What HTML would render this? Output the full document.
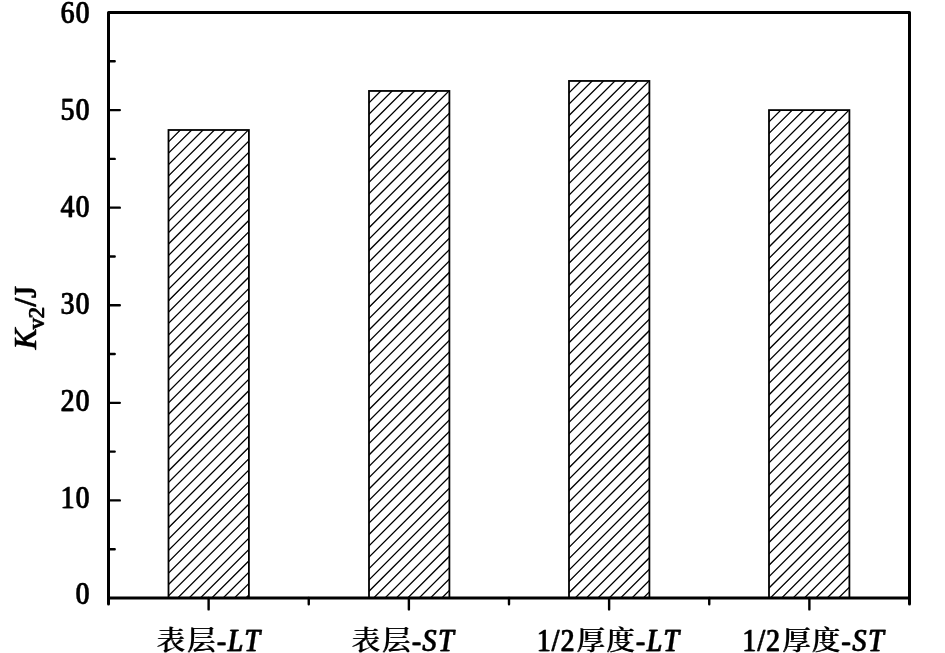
<!DOCTYPE html>
<html lang="zh"><head><meta charset="utf-8"><title>Kv2/J</title>
<style>html,body{margin:0;padding:0;background:#fff;}body{width:945px;height:653px;overflow:hidden;}svg{display:block;}text{font-family:"Liberation Serif","Noto Serif CJK SC",serif;fill:#000;stroke:#000;stroke-width:0.3px;font-size:30.8px;letter-spacing:1.5px;}.i{font-style:italic;stroke-width:0.3px;letter-spacing:2.2px;}.c{font-family:"Noto Serif CJK SC","Liberation Serif",serif;font-weight:400;stroke-width:0.1px;letter-spacing:0;font-size:28.3px;}.s{font-size:22.3px;}.e{text-anchor:end;}.r text{letter-spacing:0;}</style></head><body>
<svg width="945" height="653" viewBox="0 0 945 653">
<rect x="0" y="0" width="945" height="653" fill="#fff"/>
<defs>
<clipPath id="cp0"><rect x="168.50" y="130.00" width="80.40" height="468.00"/></clipPath>
<clipPath id="cp1"><rect x="369.00" y="90.95" width="80.40" height="507.05"/></clipPath>
<clipPath id="cp2"><rect x="569.00" y="80.95" width="80.40" height="517.05"/></clipPath>
<clipPath id="cp3"><rect x="769.00" y="110.10" width="80.40" height="487.90"/></clipPath>
</defs>
<path clip-path="url(#cp0)" d="M167.50 142.85L249.90 60.45M167.50 154.20L249.90 71.80M167.50 165.55L249.90 83.15M167.50 176.90L249.90 94.50M167.50 188.25L249.90 105.85M167.50 199.60L249.90 117.20M167.50 210.95L249.90 128.55M167.50 222.30L249.90 139.90M167.50 233.65L249.90 151.25M167.50 245.00L249.90 162.60M167.50 256.35L249.90 173.95M167.50 267.70L249.90 185.30M167.50 279.05L249.90 196.65M167.50 290.40L249.90 208.00M167.50 301.75L249.90 219.35M167.50 313.10L249.90 230.70M167.50 324.45L249.90 242.05M167.50 335.80L249.90 253.40M167.50 347.15L249.90 264.75M167.50 358.50L249.90 276.10M167.50 369.85L249.90 287.45M167.50 381.20L249.90 298.80M167.50 392.55L249.90 310.15M167.50 403.90L249.90 321.50M167.50 415.25L249.90 332.85M167.50 426.60L249.90 344.20M167.50 437.95L249.90 355.55M167.50 449.30L249.90 366.90M167.50 460.65L249.90 378.25M167.50 472.00L249.90 389.60M167.50 483.35L249.90 400.95M167.50 494.70L249.90 412.30M167.50 506.05L249.90 423.65M167.50 517.40L249.90 435.00M167.50 528.75L249.90 446.35M167.50 540.10L249.90 457.70M167.50 551.45L249.90 469.05M167.50 562.80L249.90 480.40M167.50 574.15L249.90 491.75M167.50 585.50L249.90 503.10M167.50 596.85L249.90 514.45M167.50 608.20L249.90 525.80M167.50 619.55L249.90 537.15M167.50 630.90L249.90 548.50M167.50 642.25L249.90 559.85M167.50 653.60L249.90 571.20M167.50 664.95L249.90 582.55M167.50 676.30L249.90 593.90" stroke="#000" stroke-width="1.3" fill="none"/>
<rect x="168.50" y="130.00" width="80.40" height="468.00" fill="none" stroke="#000" stroke-width="1.8"/>
<path clip-path="url(#cp1)" d="M368.00 103.80L450.40 21.40M368.00 115.16L450.40 32.76M368.00 126.52L450.40 44.12M368.00 137.88L450.40 55.48M368.00 149.24L450.40 66.84M368.00 160.60L450.40 78.20M368.00 171.96L450.40 89.56M368.00 183.32L450.40 100.92M368.00 194.68L450.40 112.28M368.00 206.04L450.40 123.64M368.00 217.40L450.40 135.00M368.00 228.76L450.40 146.36M368.00 240.12L450.40 157.72M368.00 251.48L450.40 169.08M368.00 262.84L450.40 180.44M368.00 274.20L450.40 191.80M368.00 285.56L450.40 203.16M368.00 296.92L450.40 214.52M368.00 308.28L450.40 225.88M368.00 319.64L450.40 237.24M368.00 331.00L450.40 248.60M368.00 342.36L450.40 259.96M368.00 353.72L450.40 271.32M368.00 365.08L450.40 282.68M368.00 376.44L450.40 294.04M368.00 387.80L450.40 305.40M368.00 399.16L450.40 316.76M368.00 410.52L450.40 328.12M368.00 421.88L450.40 339.48M368.00 433.24L450.40 350.84M368.00 444.60L450.40 362.20M368.00 455.96L450.40 373.56M368.00 467.32L450.40 384.92M368.00 478.68L450.40 396.28M368.00 490.04L450.40 407.64M368.00 501.40L450.40 419.00M368.00 512.76L450.40 430.36M368.00 524.12L450.40 441.72M368.00 535.48L450.40 453.08M368.00 546.84L450.40 464.44M368.00 558.20L450.40 475.80M368.00 569.56L450.40 487.16M368.00 580.92L450.40 498.52M368.00 592.28L450.40 509.88M368.00 603.64L450.40 521.24M368.00 615.00L450.40 532.60M368.00 626.36L450.40 543.96M368.00 637.72L450.40 555.32M368.00 649.08L450.40 566.68M368.00 660.44L450.40 578.04M368.00 671.80L450.40 589.40" stroke="#000" stroke-width="1.3" fill="none"/>
<rect x="369.00" y="90.95" width="80.40" height="507.05" fill="none" stroke="#000" stroke-width="1.8"/>
<path clip-path="url(#cp2)" d="M568.00 93.80L650.40 11.40M568.00 105.16L650.40 22.76M568.00 116.53L650.40 34.13M568.00 127.89L650.40 45.49M568.00 139.25L650.40 56.85M568.00 150.62L650.40 68.22M568.00 161.98L650.40 79.58M568.00 173.34L650.40 90.94M568.00 184.70L650.40 102.30M568.00 196.07L650.40 113.67M568.00 207.43L650.40 125.03M568.00 218.79L650.40 136.39M568.00 230.16L650.40 147.76M568.00 241.52L650.40 159.12M568.00 252.88L650.40 170.48M568.00 264.25L650.40 181.85M568.00 275.61L650.40 193.21M568.00 286.97L650.40 204.57M568.00 298.33L650.40 215.93M568.00 309.70L650.40 227.30M568.00 321.06L650.40 238.66M568.00 332.42L650.40 250.02M568.00 343.79L650.40 261.39M568.00 355.15L650.40 272.75M568.00 366.51L650.40 284.11M568.00 377.88L650.40 295.48M568.00 389.24L650.40 306.84M568.00 400.60L650.40 318.20M568.00 411.96L650.40 329.56M568.00 423.33L650.40 340.93M568.00 434.69L650.40 352.29M568.00 446.05L650.40 363.65M568.00 457.42L650.40 375.02M568.00 468.78L650.40 386.38M568.00 480.14L650.40 397.74M568.00 491.51L650.40 409.11M568.00 502.87L650.40 420.47M568.00 514.23L650.40 431.83M568.00 525.59L650.40 443.19M568.00 536.96L650.40 454.56M568.00 548.32L650.40 465.92M568.00 559.68L650.40 477.28M568.00 571.05L650.40 488.65M568.00 582.41L650.40 500.01M568.00 593.77L650.40 511.37M568.00 605.14L650.40 522.74M568.00 616.50L650.40 534.10M568.00 627.86L650.40 545.46M568.00 639.22L650.40 556.82M568.00 650.59L650.40 568.19M568.00 661.95L650.40 579.55M568.00 673.31L650.40 590.91" stroke="#000" stroke-width="1.3" fill="none"/>
<rect x="569.00" y="80.95" width="80.40" height="517.05" fill="none" stroke="#000" stroke-width="1.8"/>
<path clip-path="url(#cp3)" d="M768.00 122.95L850.40 40.55M768.00 134.32L850.40 51.92M768.00 145.68L850.40 63.28M768.00 157.05L850.40 74.65M768.00 168.41L850.40 86.01M768.00 179.78L850.40 97.38M768.00 191.15L850.40 108.75M768.00 202.51L850.40 120.11M768.00 213.88L850.40 131.48M768.00 225.24L850.40 142.84M768.00 236.61L850.40 154.21M768.00 247.98L850.40 165.58M768.00 259.34L850.40 176.94M768.00 270.71L850.40 188.31M768.00 282.07L850.40 199.67M768.00 293.44L850.40 211.04M768.00 304.81L850.40 222.41M768.00 316.17L850.40 233.77M768.00 327.54L850.40 245.14M768.00 338.90L850.40 256.50M768.00 350.27L850.40 267.87M768.00 361.64L850.40 279.24M768.00 373.00L850.40 290.60M768.00 384.37L850.40 301.97M768.00 395.73L850.40 313.33M768.00 407.10L850.40 324.70M768.00 418.47L850.40 336.07M768.00 429.83L850.40 347.43M768.00 441.20L850.40 358.80M768.00 452.56L850.40 370.16M768.00 463.93L850.40 381.53M768.00 475.30L850.40 392.90M768.00 486.66L850.40 404.26M768.00 498.03L850.40 415.63M768.00 509.39L850.40 426.99M768.00 520.76L850.40 438.36M768.00 532.13L850.40 449.73M768.00 543.49L850.40 461.09M768.00 554.86L850.40 472.46M768.00 566.22L850.40 483.82M768.00 577.59L850.40 495.19M768.00 588.96L850.40 506.56M768.00 600.32L850.40 517.92M768.00 611.69L850.40 529.29M768.00 623.05L850.40 540.65M768.00 634.42L850.40 552.02M768.00 645.79L850.40 563.39M768.00 657.15L850.40 574.75M768.00 668.52L850.40 586.12" stroke="#000" stroke-width="1.3" fill="none"/>
<rect x="769.00" y="110.10" width="80.40" height="487.90" fill="none" stroke="#000" stroke-width="1.8"/>
<path d="M108.50 549.21H114.70M108.50 500.42H119.80M108.50 451.62H114.70M108.50 402.83H119.80M108.50 354.04H114.70M108.50 305.25H119.80M108.50 256.46H114.70M108.50 207.67H119.80M108.50 158.88H114.70M108.50 110.08H119.80M108.50 61.29H114.70M208.62 598.00V609.40M308.75 598.00V604.20M408.88 598.00V609.40M509.00 598.00V604.20M609.12 598.00V609.40M709.25 598.00V604.20M809.38 598.00V609.40" stroke="#000" stroke-width="2.40" stroke-linecap="round" fill="none"/>
<path d="M108.50 598.00V604M909.50 598.00V604" stroke="#000" stroke-width="3.00" stroke-linecap="round" fill="none"/>
<rect x="108.50" y="12.50" width="801.00" height="585.50" fill="none" stroke="#000" stroke-width="3.00" stroke-linejoin="round"/>
<g style="filter:drop-shadow(1px 0 0 #000)">
<text class="e" transform="translate(90.15,604.20) scale(0.885,1)">0</text>
<text class="e" transform="translate(90.15,508.10) scale(0.885,1)">10</text>
<text class="e" transform="translate(90.15,411.00) scale(0.885,1)">20</text>
<text class="e" transform="translate(90.15,314.00) scale(0.885,1)">30</text>
<text class="e" transform="translate(90.15,216.90) scale(0.885,1)">40</text>
<text class="e" transform="translate(90.15,120.20) scale(0.885,1)">50</text>
<text class="e" transform="translate(90.15,23.20) scale(0.885,1)">60</text>
<g><text class="c" style="letter-spacing:2.25px" transform="translate(156.25,650.40) scale(1,0.955)">表层</text><text transform="translate(216.44,650.60) scale(0.885,1)">-</text><text class="i" transform="translate(227.20,650.60) scale(0.9,1)">LT</text></g>
<g><text class="c" style="letter-spacing:2.25px" transform="translate(351.25,650.40) scale(1,0.955)">表层</text><text transform="translate(411.44,650.60) scale(0.885,1)">-</text><text class="i" transform="translate(421.90,650.60) scale(0.9,1)">ST</text></g>
<g><text transform="translate(536.40,650.60) scale(0.885,1)">1/2</text><text class="c" style="letter-spacing:1.35px" transform="translate(576.30,649.50) scale(1,0.955)">厚度</text><text transform="translate(635.44,650.60) scale(0.885,1)">-</text><text class="i" transform="translate(646.25,650.60) scale(0.9,1)">LT</text></g>
<g><text transform="translate(742.00,650.60) scale(0.885,1)">1/2</text><text class="c" style="letter-spacing:1.35px" transform="translate(781.90,649.50) scale(1,0.955)">厚度</text><text transform="translate(841.04,650.60) scale(0.885,1)">-</text><text class="i" transform="translate(851.90,650.60) scale(0.9,1)">ST</text></g>
</g>
<g class="r" style="filter:drop-shadow(0 -1px 0 #000)"><g transform="translate(35.5,0) rotate(-90)"><text class="i" x="-349.75" y="0">K</text><text class="s" x="-329.8" y="8.7">v2</text><text x="-307.1" y="0">/J</text></g></g>
</svg></body></html>
